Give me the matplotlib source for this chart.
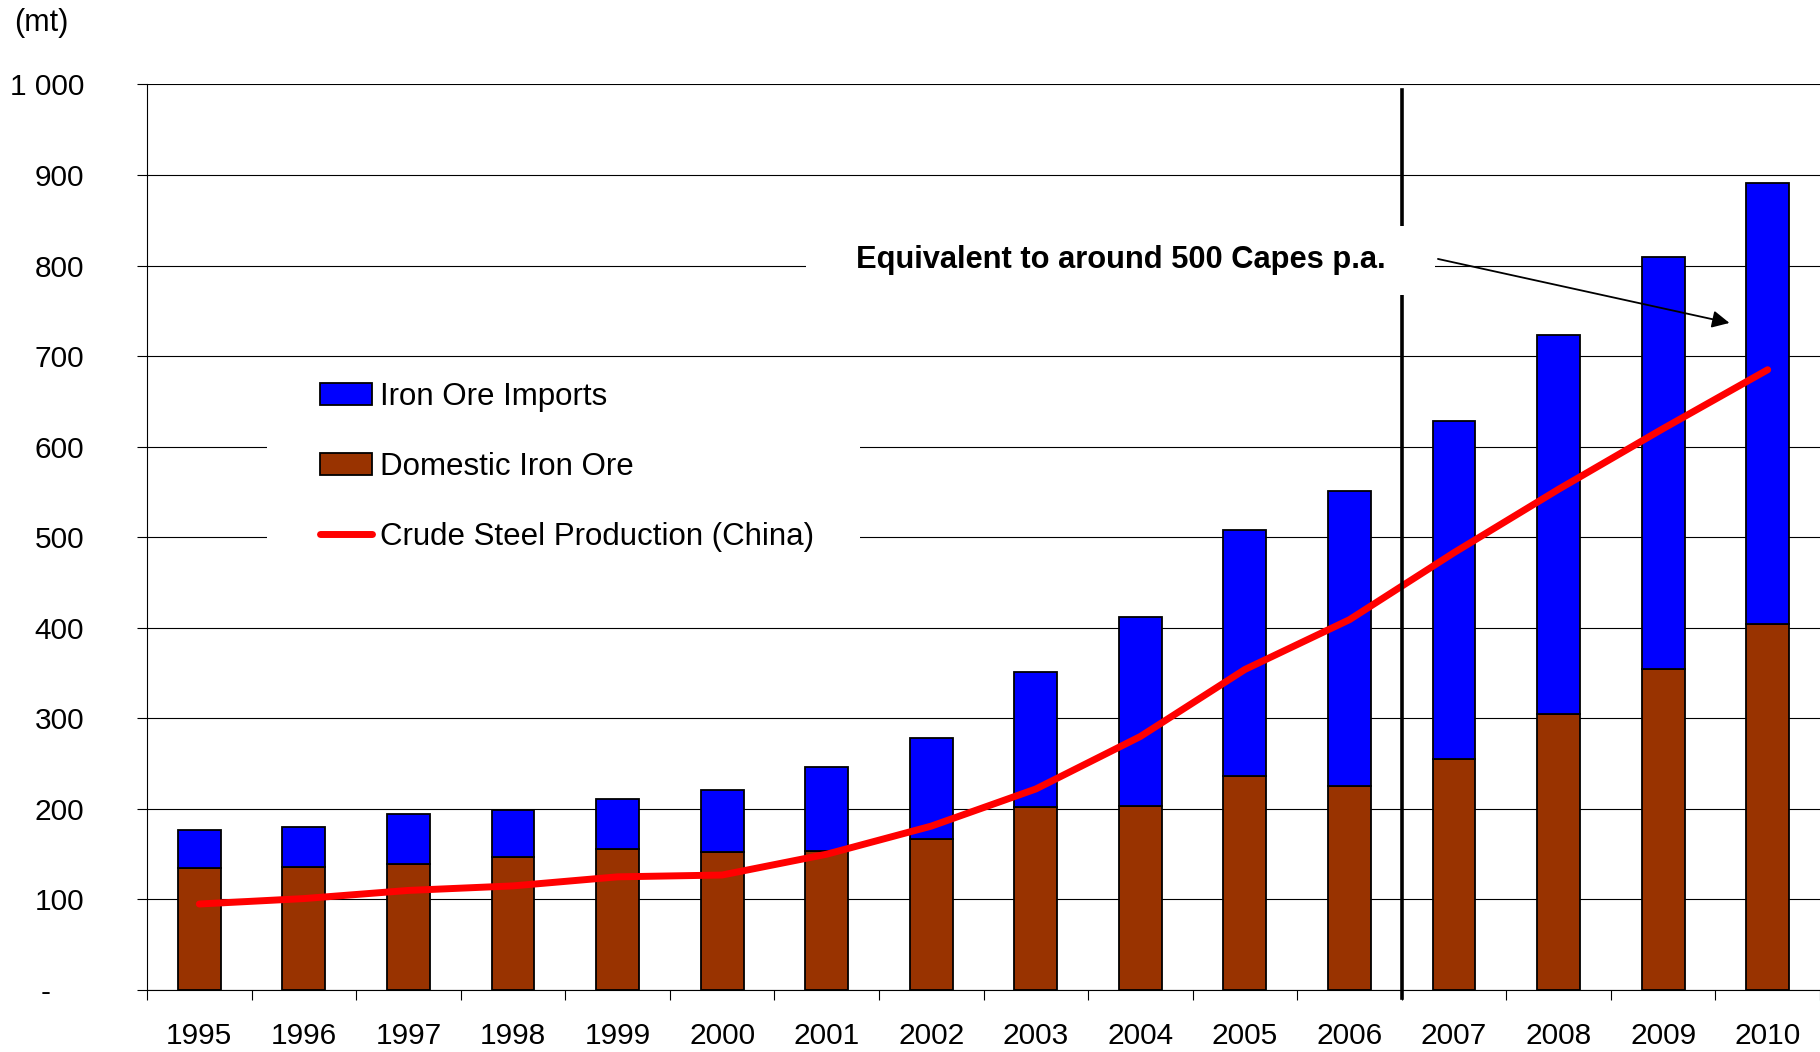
import matplotlib
matplotlib.use("agg")
import matplotlib.pyplot as plt
from matplotlib.patches import Patch, Rectangle
from matplotlib.lines import Line2D

years = [1995, 1996, 1997, 1998, 1999, 2000, 2001, 2002, 2003, 2004, 2005, 2006, 2007, 2008, 2009, 2010]
domestic = [135, 136, 139, 147, 156, 152, 153, 167, 202, 203, 236, 225, 255, 305, 355, 404]
imports = [42, 44, 55, 52, 55, 69, 93, 111, 149, 209, 272, 326, 373, 418, 454, 487]
steel = [95, 101, 110, 115, 125, 127, 150, 181, 222, 280, 354, 409, 483, 553, 620, 685]
yticks = [0, 100, 200, 300, 400, 500, 600, 700, 800, 900, 1000]
ytick_labels = ["-    ", "100", "200", "300", "400", "500", "600", "700", "800", "900", "1 000"]
first_forecast = 2007
note = "Equivalent to around 500 Capes p.a."

plt.rcParams['font.family'] = ['Liberation Sans', 'DejaVu Sans']

fig = plt.figure(figsize=(18.2, 10.52), dpi=100)
ax = fig.add_axes([0.0808, 0.0589, 0.9192, 0.8608])

x = list(range(len(years)))
ax.bar(x, domestic, width=0.41, color="#993300", edgecolor="black", linewidth=1.3, zorder=2)
ax.bar(x, imports, width=0.41, bottom=domestic, color="#0000FF", edgecolor="black", linewidth=1.3, zorder=2)
ax.plot(x, steel, color="#FF0000", linewidth=5, solid_capstyle="round", solid_joinstyle="round", zorder=3)

# boundary between actual and forecast years
xb = years.index(first_forecast) - 0.5
ax.plot([xb, xb], [-9, 994], color="black", linewidth=2.6, clip_on=False, zorder=3.5)

ax.set_xlim(-0.5, len(years) - 0.5)
ax.set_ylim(0, 1000)
ax.set_yticks(yticks)
ax.set_yticklabels(ytick_labels)
ax.set_xticks(x)
ax.set_xticklabels([str(y) for y in years])
ax.set_xticks([i - 0.5 for i in range(len(years) + 1)], minor=True)
ax.tick_params(axis="x", which="major", length=0, pad=23, labelsize=21.5)
ax.tick_params(axis="x", which="minor", length=7.2, width=0.8, direction="out")
ax.tick_params(axis="y", length=7.2, width=0.8, direction="out", pad=38, labelsize=21.5)
for lab in ax.get_yticklabels():
    lab.set_horizontalalignment("right")

ax.grid(axis="y", color="black", linewidth=0.8, zorder=0)
ax.set_axisbelow(True)
ax.spines["top"].set_visible(False)
ax.spines["right"].set_visible(False)
ax.spines["left"].set_linewidth(0.8)
ax.spines["bottom"].set_linewidth(0.8)

# white box behind annotation text
ax.add_patch(Rectangle((5.80, 768), 6.02, 76, facecolor="white", edgecolor="none", zorder=4))
ax.text(8.81, 806, note, ha="center", va="center", fontsize=22.2, fontweight="bold", zorder=5)
ax.annotate("", xy=(14.66, 736), xytext=(11.82, 808),
            arrowprops=dict(arrowstyle="-|>", color="black", lw=1.3, mutation_scale=26), zorder=5)

# legend with white background
ax.add_patch(Rectangle((0.1467, 0.4724), 0.3258, 0.1835, transform=fig.transFigure,
                       facecolor="white", edgecolor="none", zorder=4))
handles = [Patch(facecolor="#0000FF", edgecolor="black", linewidth=1.3),
           Patch(facecolor="#993300", edgecolor="black", linewidth=1.3),
           Line2D([0], [0], color="#FF0000", linewidth=5, solid_capstyle="round")]
labels = ["Iron Ore Imports", "Domestic Iron Ore", "Crude Steel Production (China)"]
leg = ax.legend(handles, labels, loc="upper left", bbox_to_anchor=(0.1758, 0.637),
                bbox_transform=fig.transFigure, frameon=False, fontsize=22.5,
                borderaxespad=0, borderpad=0, handlelength=1.66, handletextpad=0.26,
                labelspacing=1.28)
leg.set_zorder(6)

fig.text(14 / 1820, 1 - 23 / 1052, "(mt)", ha="left", va="center", fontsize=22)

plt.savefig("out.png", dpi=100)
